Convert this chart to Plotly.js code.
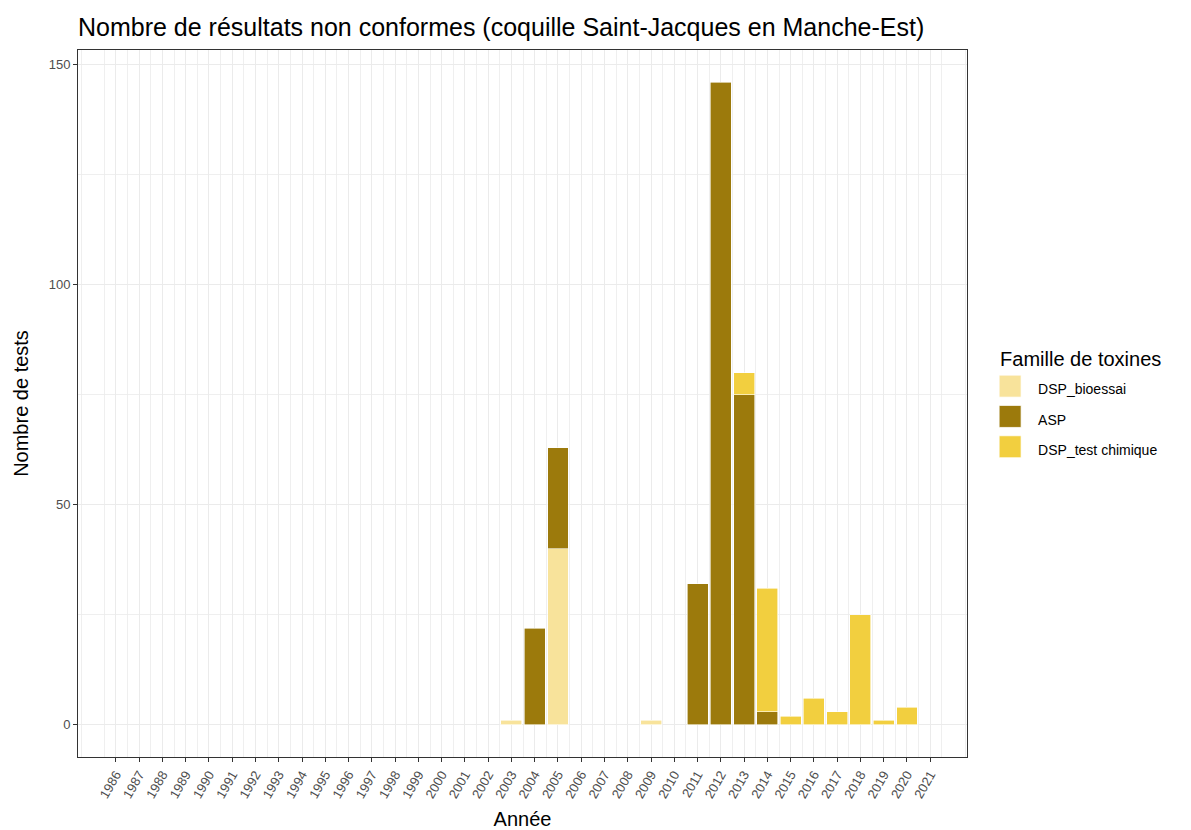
<!DOCTYPE html>
<html>
<head>
<meta charset="utf-8">
<script src="https://cdn.plot.ly/plotly-3.0.1.min.js"></script>
<style>html,body{margin:0;padding:0;background:#fff;}#chart{width:1191px;height:830px;}</style>
</head>
<body>
<div id="chart"></div>
<script>
const years = [];
for (let y = 1986; y <= 2021; y++) years.push(y);
const tickLabels = years.map(String);

const bioYears = [2003, 2005, 2009];
const bioValues = [1, 40, 1];

const aspYears = [2004, 2005, 2011, 2012, 2013, 2014];
const aspValues = [22, 23, 32, 146, 75, 3];

const chimYears = [2013, 2014, 2015, 2016, 2017, 2018, 2019, 2020];
const chimValues = [5, 28, 2, 6, 3, 25, 1, 4];

const seriesNames = ["DSP_bioessai", "ASP", "DSP_test chimique"];
const seriesColors = ["#F8E39B", "#9C7A0C", "#F2CF3F"];

const FONT = "Liberation Sans, Arial, sans-serif";

function mk(i, xs, ys) {
  return {
    type: "bar", x: xs, y: ys, width: 0.9,
    name: '<span style="font-size:14px">' + seriesNames[i] + '</span>',
    marker: {color: seriesColors[i], line: {color: "#ffffff", width: 0.6}},
    hoverinfo: "x+y"
  };
}
const data = [mk(0, bioYears, bioValues), mk(1, aspYears, aspValues), mk(2, chimYears, chimValues)];

const layout = {
  width: 1191, height: 830,
  margin: {l: 78, r: 224, t: 50, b: 73},
  paper_bgcolor: "#fff", plot_bgcolor: "#fff",
  barmode: "stack", bargap: 0.1,
  font: {family: FONT, color: "#000"},
  title: {text: "Nombre de résultats non conformes (coquille Saint-Jacques en Manche-Est)",
          font: {family: FONT, size: 25, color: "#000"}, x: 0, xref: "paper", xanchor: "left",
          y: 0.9675, yref: "container", yanchor: "middle"},
  xaxis: {
    range: [1984.37, 2022.58], tickmode: "array", tickvals: years, ticktext: tickLabels,
    tickangle: -60, tickfont: {family: FONT, size: 13, color: "#4D4D4D"},
    ticks: "outside", ticklen: 4, tickcolor: "#333", tickwidth: 1,
    showgrid: true, gridcolor: "#EBEBEB", gridwidth: 1,
    minor: {tick0: 1984.5, dtick: 1, showgrid: true, gridcolor: "#EBEBEB", gridwidth: 0.8, ticks: ""},
    showline: true, mirror: true, linecolor: "#333", linewidth: 1, zeroline: false,
    title: {text: "Année", font: {family: FONT, size: 20, color: "#000"}, standoff: 13}
  },
  yaxis: {
    range: [-7.3, 153.3], tickmode: "array", tickvals: [0, 50, 100, 150], ticktext: ["0", "50", "100", "150"],
    tickfont: {family: FONT, size: 13, color: "#4D4D4D"},
    ticks: "outside", ticklen: 4, tickcolor: "#333", tickwidth: 1,
    showgrid: true, gridcolor: "#EBEBEB", gridwidth: 1,
    minor: {tickvals: [25, 75, 125], showgrid: true, gridcolor: "#EBEBEB", gridwidth: 0.8, ticks: ""},
    showline: true, mirror: true, linecolor: "#333", linewidth: 1, zeroline: false,
    title: {text: "Nombre de tests", font: {family: FONT, size: 20, color: "#000"}, standoff: 14}
  },
  showlegend: true,
  legend: {
    x: 1.035, xanchor: "left", y: 0.5, yanchor: "middle", traceorder: "normal",
    title: {text: "Famille de toxines", font: {family: FONT, size: 20, color: "#000"}},
    font: {family: FONT, size: 21, color: "#000"},
    itemwidth: 30, bgcolor: "rgba(0,0,0,0)", tracegroupgap: 0
  }
};

Plotly.newPlot("chart", data, layout, {displayModeBar: false, staticPlot: true}).then(function (gd) {
  gd.querySelectorAll(".legend .legendpoints path").forEach(function (p) {
    const t = p.getAttribute("transform") || "";
    const m = t.match(/translate\(([-\d.]+)[ ,]*([-\d.]*)\)/);
    const tx = m ? parseFloat(m[1]) : 20;
    p.setAttribute("transform", "translate(" + (tx - 8) + ",0) scale(1.83)");
    p.style.strokeWidth = "0.4px";
  });
});
</script>
</body>
</html>
